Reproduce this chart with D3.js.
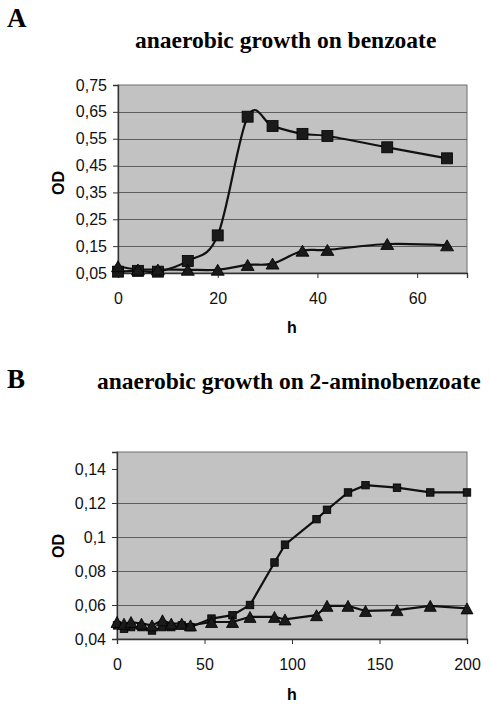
<!DOCTYPE html>
<html><head><meta charset="utf-8">
<script src="https://cdn.jsdelivr.net/npm/d3@7"></script>
<style>
body{margin:0;background:#fff;}
svg{display:block;}
</style></head>
<body>
<svg id="c" width="490" height="706"></svg>
<script>
// Panel A data
const hoursA = [0, 4, 8, 14, 20, 26, 31, 37, 42, 54, 66];
const squaresA = [0.055, 0.058, 0.055, 0.095, 0.19, 0.632, 0.597, 0.568, 0.56, 0.518, 0.477];
const trianglesA = [0.075, 0.063, 0.063, 0.062, 0.062, 0.08, 0.085, 0.133, 0.136, 0.158, 0.153];
const yTicksA = [0.05, 0.15, 0.25, 0.35, 0.45, 0.55, 0.65, 0.75];
const xTicksA = [0, 20, 40, 60];

// Panel B data
const hoursB = [0, 4, 8, 14, 20, 26, 31, 37, 42, 54, 66, 76, 90, 96, 114, 120, 132, 142, 160, 179, 200];
const squaresB = [0.048, 0.046, 0.047, 0.047, 0.045, 0.047, 0.047, 0.048, 0.047, 0.052, 0.054, 0.060, 0.085, 0.0955, 0.1105, 0.116, 0.1262, 0.1305, 0.129, 0.1262, 0.1262];
const trianglesB = [0.050, 0.049, 0.050, 0.049, 0.048, 0.051, 0.049, 0.049, 0.048, 0.050, 0.050, 0.053, 0.053, 0.0515, 0.054, 0.0595, 0.0595, 0.0565, 0.057, 0.0595, 0.058];
const yTicksB = [0.04, 0.06, 0.08, 0.1, 0.12, 0.14];
const xTicksB = [0, 50, 100, 150, 200];

const svg = d3.select("#c");
const fmt = d => String(d).replace(".", ",");

function panel(cfg) {
  const g = svg.append("g");
  const x = d3.scaleLinear().domain(cfg.xDomain).range([cfg.left, cfg.right]);
  const y = d3.scaleLinear().domain(cfg.yDomain).range([cfg.bottom, cfg.top]);

  // letter
  g.append("text").attr("x", 7).attr("y", cfg.letterY)
    .attr("font-family", "Liberation Serif").attr("font-weight", "bold")
    .attr("font-size", 27).text(cfg.letter);
  // title
  g.append("text").attr("x", cfg.titleX).attr("y", cfg.titleY)
    .attr("font-family", "Liberation Serif").attr("font-weight", "bold")
    .attr("font-size", 23.5).text(cfg.title);

  // plot background
  g.append("rect").attr("x", cfg.left).attr("y", cfg.top)
    .attr("width", cfg.right - cfg.left).attr("height", cfg.bottom - cfg.top)
    .attr("fill", "#c2c2c2").attr("stroke", "#6e6e6e").attr("stroke-width", 1);

  // gridlines
  g.append("g").selectAll("line").data(cfg.yTicks.slice(1, -1)).join("line")
    .attr("x1", cfg.left).attr("x2", cfg.right)
    .attr("y1", d => Math.round(y(d)) + 0.5).attr("y2", d => Math.round(y(d)) + 0.5)
    .attr("stroke", "#5e5e5e").attr("stroke-width", 1);

  // axes
  const yAxis = d3.axisLeft(y).tickValues(cfg.yTicks).tickFormat(fmt).tickSize(5).tickPadding(6);
  const ya = g.append("g").attr("transform", `translate(${cfg.left},0)`).call(yAxis);
  const xAxis = d3.axisBottom(x).tickValues(cfg.xTicks).tickSize(5).tickPadding(15);
  const xa = g.append("g").attr("transform", `translate(0,${cfg.bottom})`).call(xAxis);
  [ya, xa].forEach(a => {
    a.select(".domain").attr("stroke", "#333").attr("stroke-width", 1.3);
    a.selectAll(".tick line").attr("stroke", "#333");
    a.selectAll("text").attr("font-family", "Liberation Sans").attr("font-size", 16).attr("fill", "#111");
  });

  // axis titles
  g.append("text").attr("transform", `translate(${cfg.odX},${cfg.odY}) rotate(-90)`)
    .attr("text-anchor", "middle").attr("dy", "0.35em")
    .attr("font-family", "Liberation Sans").attr("font-weight", "bold").attr("font-size", 16).text("OD");
  g.append("text").attr("x", 292).attr("y", cfg.hY)
    .attr("text-anchor", "middle")
    .attr("font-family", "Liberation Sans").attr("font-weight", "bold").attr("font-size", 16).text("h");

  const curve = cfg.smooth ? d3.curveCatmullRom.alpha(0) : d3.curveLinear;
  const line = d3.line().x(d => x(d[0])).y(d => y(d[1])).curve(curve);

  const sq = cfg.hours.map((h, i) => [h, cfg.squares[i]]);
  const tr = cfg.hours.map((h, i) => [h, cfg.triangles[i]]);

  g.append("path").datum(tr).attr("d", line).attr("fill", "none").attr("stroke", "#111").attr("stroke-width", 2.2);
  g.append("path").datum(sq).attr("d", line).attr("fill", "none").attr("stroke", "#111").attr("stroke-width", 2.2);

  const s = cfg.sqSize;
  g.append("g").selectAll("rect").data(sq).join("rect")
    .attr("x", d => x(d[0]) - s / 2).attr("y", d => y(d[1]) - s / 2)
    .attr("width", s).attr("height", s).attr("fill", "#1a1a1a").attr("stroke", "#000").attr("stroke-width", 0.8);

  const tw = cfg.triW, th = cfg.triH;
  g.append("g").selectAll("path").data(tr).join("path")
    .attr("d", d => {
      const cx = x(d[0]), cy = y(d[1]);
      return `M${cx},${cy - th / 2}L${cx + tw / 2},${cy + th / 2}L${cx - tw / 2},${cy + th / 2}Z`;
    })
    .attr("fill", "#1a1a1a").attr("stroke", "#000").attr("stroke-width", 0.8);
}

panel({
  letter: "A", letterY: 27, title: "anaerobic growth on benzoate", titleX: 135, titleY: 48,
  left: 118, right: 467, top: 85, bottom: 273,
  xDomain: [0, 70], yDomain: [0.05, 0.75], xTicks: xTicksA, yTicks: yTicksA,
  odX: 58, odY: 183, hY: 333,
  hours: hoursA, squares: squaresA, triangles: trianglesA,
  smooth: true, sqSize: 11, triW: 13, triH: 11
});

panel({
  letter: "B", letterY: 388, title: "anaerobic growth on 2-aminobenzoate", titleX: 97, titleY: 389,
  left: 117, right: 467, top: 452, bottom: 639,
  xDomain: [0, 200], yDomain: [0.04, 0.15], xTicks: xTicksB, yTicks: yTicksB,
  odX: 58, odY: 546, hY: 700,
  hours: hoursB, squares: squaresB, triangles: trianglesB,
  smooth: false, sqSize: 7.5, triW: 12, triH: 11
});
</script>
</body></html>
